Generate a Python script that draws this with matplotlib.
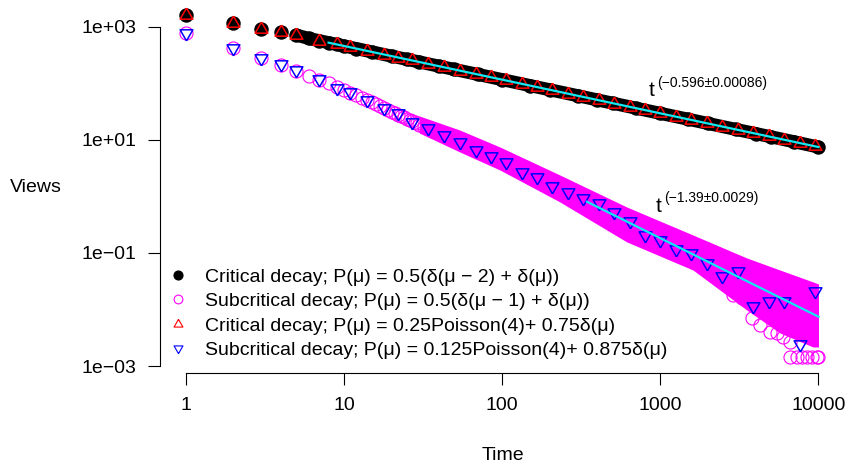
import matplotlib
matplotlib.use("Agg")
import matplotlib.pyplot as plt
from matplotlib.lines import Line2D

plt.rcParams['font.family'] = ['Liberation Sans', 'DejaVu Sans']

# critical decay, P(mu) = 0.5(d(mu-2) + d(mu))  -- black dots, one per time step
crit_t = [1, 2, 3, 4, 5, 6, 7, 8, 9, 10, 12, 15, 20, 25, 30, 40, 50, 70, 100, 150,
          200, 300, 400, 500, 700, 1000, 1500, 2000, 3000, 4000, 5000, 7000, 10000]
crit_v = [1650, 1160, 920, 800, 720, 625, 570, 527, 491, 460, 414, 362, 305, 267, 240,
          202, 177, 145, 117, 91.8, 77.4, 60.8, 51.2, 44.8, 36.6, 29.6, 23.3, 19.6,
          15.4, 13.0, 11.4, 9.3, 7.5]

# subcritical decay, P(mu) = 0.5(d(mu-1) + d(mu))  -- magenta rings (early steps)
sub_t = list(range(1, 31)) + [32, 34, 36, 38, 40]
sub_v = [793, 431, 287, 212, 169, 137, 115, 100, 86, 77, 69, 62, 56, 51, 46.5, 42.7,
         39.4, 36.5, 33.9, 31.6, 29.9, 28.2, 26.6, 25.1, 23.9, 22.6, 21.5, 20.5, 19.6,
         18.7, 17.2, 15.8, 14.7, 13.7, 12.8]
# later steps overlap into a band: upper / lower edge of the cloud
band_t = [30, 54, 97, 232, 614, 1610, 3520, 5710, 9250, 10000]
band_hi = [26.6, 15.0, 7.5, 2.40, 0.652, 0.208, 0.0817, 0.050, 0.0307, 0.0283]
band_lo = [13.3, 6.14, 2.94, 0.80, 0.157, 0.050, 0.0098, 0.00384, 0.00217, 0.00217]
# stray rings below the band in the tail
tail_t = [2890, 3270, 3790, 4270, 4930, 5430, 5980, 6610, 6610, 7310, 7870, 8450,
          9100, 9770, 10000]
tail_v = [0.0181, 0.0158, 0.0070, 0.0053, 0.0040, 0.0038, 0.0033, 0.0027, 0.00146,
          0.00146, 0.00146, 0.00146, 0.00146, 0.00146, 0.00146]

# log-binned times of the Poisson-mixture runs (triangles)
tri_t = [1, 2, 3, 4, 5, 7, 9, 11, 14, 18, 22, 27, 34, 43, 54, 68, 85, 106, 133, 166,
         208, 261, 326, 408, 512, 640, 802, 1002, 1256, 1574, 1968, 2466, 3090, 3864,
         4842, 6067, 7586, 9506]
# critical decay, 0.25 Poisson(4) + 0.75 d(mu)
pois_crit_v = [1650, 1160, 920, 800, 710, 570, 491, 436, 378, 325, 288, 255, 222, 193,
               169, 147, 129, 113, 98.6, 86.5, 75.5, 66, 57.8, 50.6, 44.2, 38.7, 33.8,
               29.6, 25.9, 22.6, 19.8, 17.3, 15.1, 13.2, 11.6, 10.1, 8.87, 7.74]
# subcritical decay, 0.125 Poisson(4) + 0.875 d(mu)
pois_sub_v = [793, 420, 279, 221, 173, 119, 84, 70, 51, 36.4, 29.7, 21.1, 16.1, 12.2,
              9.3, 6.65, 5.2, 4.13, 2.75, 2.19, 1.53, 1.18, 0.93, 0.76, 0.54, 0.373,
              0.208, 0.170, 0.116, 0.0988, 0.0656, 0.0392, 0.0486, 0.01153, 0.01413,
              0.01413, 0.00242, 0.0215]

# power-law fits (end points)
fit_crit_t = [8, 10000]
fit_crit_v = [527, 7.5]
fit_sub_t = [344, 10000]
fit_sub_v = [0.807, 0.00746]

labels = [
    "Critical decay; P(μ) = 0.5(δ(μ − 2) + δ(μ))",
    "Subcritical decay; P(μ) = 0.5(δ(μ − 1) + δ(μ))",
    "Critical decay; P(μ) = 0.25Poisson(4)+ 0.75δ(μ)",
    "Subcritical decay; P(μ) = 0.125Poisson(4)+ 0.875δ(μ)",
]

tri_up = [(0, 1.555), (-1.347, -0.778), (1.347, -0.778), (0, 1.555)]
tri_down = [(0, -1.555), (-1.347, 0.778), (1.347, 0.778), (0, -1.555)]

W, H = 848, 466
fig = plt.figure(figsize=(W / 100, H / 100), dpi=100)
ax = fig.add_axes([160.4 / W, (H - 372.8) / H, 683.4 / W, 372.4 / H])
ax.set_xscale('log')
ax.set_yscale('log')

# black band + dots
ax.plot(crit_t[4:], crit_v[4:], color='black', lw=9.4, solid_capstyle='round', zorder=2)
ax.plot(crit_t, crit_v, ls='none', marker='o', ms=9.4, color='black', zorder=2)

# magenta cloud
ax.fill_between(band_t, band_lo, band_hi, color='#FF00FF', lw=0, zorder=3)
ax.plot(sub_t, sub_v, ls='none', marker='o', ms=9.4, mfc='none', mec='#FF00FF',
        mew=0.8, zorder=3)
ax.plot(tail_t, tail_v, ls='none', marker='o', ms=9.4, mfc='none', mec='#FF00FF',
        mew=0.8, zorder=3)

# triangles
ax.plot(tri_t, pois_crit_v, ls='none', marker=tri_up, ms=10.6, mfc='none',
        mec='#FF0000', mew=1.1, zorder=4)
ax.plot(tri_t, pois_sub_v, ls='none', marker=tri_down, ms=10.6, mfc='none',
        mec='#0000FF', mew=1.1, zorder=5)

# fits
ax.plot(fit_crit_t, fit_crit_v, color='#10E8F2', lw=1.6, zorder=6)
ax.plot(fit_sub_t, fit_sub_v, color='#10E8F2', lw=1.6, zorder=6)

ax.set_xlim(10 ** -0.16, 10 ** 4.16)
ax.set_ylim(10 ** -3.12, 10 ** 3.47)
ax.set_xticks([1, 10, 100, 1000, 10000])
ax.set_xticklabels(['1', '10', '100', '1000', '10000'])
ax.set_yticks([1e-3, 1e-1, 1e1, 1e3])
ax.set_yticklabels(['1e−03', '1e−01', '1e+01', '1e+03'])
ax.minorticks_off()
for s in ['top', 'right']:
    ax.spines[s].set_visible(False)
ax.spines['left'].set_bounds(1e-3, 1e3)
ax.spines['bottom'].set_bounds(1, 1e4)
for s in ['left', 'bottom']:
    ax.spines[s].set_linewidth(0.8)
ax.tick_params(length=8.6, width=0.8, labelsize=14, direction='out')
ax.tick_params(axis='x', pad=9)
ax.tick_params(axis='y', pad=8.6)
ax.patch.set_visible(False)

fig.text(503 / W, 1 - 456 / H, 'Time', ha='center', va='center', fontsize=14)
fig.text(36 / W, 1 - 187 / H, 'Views', ha='center', va='center', fontsize=14)

# exponent labels
fig.text(649 / W, 1 - 96 / H, 't', ha='left', va='baseline', fontsize=15)
fig.text(657 / W, 1 - 83 / H, '(−0.596±0.00086)', ha='left', va='center', fontsize=10)
fig.text(656 / W, 1 - 212 / H, 't', ha='left', va='baseline', fontsize=15)
fig.text(664 / W, 1 - 198 / H, '(−1.39±0.0029)', ha='left', va='center', fontsize=10)

handles = [
    Line2D([], [], ls='none', marker='o', color='black', ms=6.3),
    Line2D([], [], ls='none', marker='o', mfc='none', mec='#FF00FF', ms=6.3, mew=0.8),
    Line2D([], [], ls='none', marker=tri_up, mfc='none', mec='#FF0000', ms=7.4, mew=0.8),
    Line2D([], [], ls='none', marker=tri_down, mfc='none', mec='#0000FF', ms=7.4, mew=0.8),
]
ax.legend(handles, labels, loc='upper left', bbox_to_anchor=(0.0116, 0.281),
          frameon=False, fontsize=14, handlelength=1.0, handletextpad=0.89,
          labelspacing=0.35, borderpad=0, borderaxespad=0)

fig.savefig('out.png', dpi=100)
